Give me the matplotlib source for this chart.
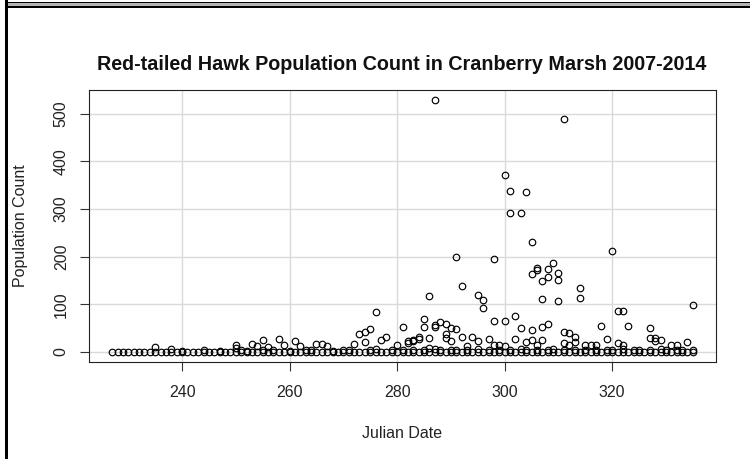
import matplotlib
matplotlib.use('Agg')
import matplotlib.pyplot as plt
from matplotlib.patches import Rectangle
import numpy as np

plt.rcParams['font.family'] = ['Liberation Sans', 'DejaVu Sans']

# days with a zero count
zero_days = [227, 228, 229, 230, 231, 232, 233, 234, 235, 236, 237, 238, 239, 240, 241,
             242, 243, 244, 245, 246, 247, 248, 249, 250, 251, 252, 253, 254, 255, 256,
             257, 258, 259, 260, 261, 262, 263, 264, 265, 266, 267, 268, 269, 270, 271,
             272, 273, 274, 275, 276, 277, 278, 279, 280, 281, 282, 283, 284, 285, 286,
             287, 288, 289, 290, 291, 292, 293, 294, 295, 296, 297, 298, 299, 300, 301,
             302, 303, 304, 305, 306, 307, 308, 309, 310, 311, 312, 313, 314, 315, 316,
             317, 318, 319, 320, 321, 322, 323, 324, 325, 326, 327, 328, 329, 330, 331,
             332, 333, 334, 335]
zero_counts = [0] * len(zero_days)

# small counts just above zero
low_days = [240, 244, 247, 251, 252, 255, 257, 260, 263, 264, 268, 270, 271, 275, 276,
            279, 281, 283, 285, 287, 288, 290, 291, 293, 295, 297, 299, 301, 303, 304,
            306, 308, 309, 311, 313, 315, 317, 319, 320, 322, 324, 325, 327, 329, 330,
            332, 333, 335]
low_counts = [2, 3, 1, 4, 2, 3, 5, 2, 4, 3, 2, 5, 3, 4, 6,
              3, 5, 4, 3, 6, 4, 5, 3, 4, 6, 3, 5, 4, 6, 3,
              5, 4, 6, 3, 5, 4, 3, 5, 4, 6, 3, 5, 4, 6, 3,
              5, 4, 5]

# remaining observations
obs_days = [287, 311, 300, 301, 304, 301, 303, 305, 320, 291, 298, 309, 306, 306, 308,
            305, 310, 308, 310, 307, 292, 314, 295, 286, 296, 314, 307, 310, 335, 296,
            321, 322, 276, 302, 285, 298, 300, 288, 289, 308, 287, 318, 323, 285, 307,
            281, 287, 290, 303, 291, 327, 275, 305, 274, 311, 312, 289, 273, 313, 278,
            292, 294, 286, 289, 328, 327, 302, 319, 284, 297, 329, 258, 277, 305, 307,
            255, 261, 282, 283, 290, 295, 304, 328, 313, 334, 274, 282, 311, 321, 265,
            266, 272, 253, 250, 259, 280, 298, 299, 306, 312, 315, 316, 317, 322, 331,
            332, 254, 262, 267, 293, 300, 256, 235, 250, 238, 286, 284, 283]
obs_counts = [529, 490, 372, 339, 335, 292, 292, 230, 211, 200, 196, 186, 176, 172, 174,
              163, 165, 158, 152, 148, 139, 134, 119, 118, 109, 113, 111, 108, 99, 93,
              87, 85, 83, 76, 69, 66, 66, 63, 58, 58, 57, 54, 54, 53, 53,
              52, 52, 51, 50, 49, 50, 48, 46, 41, 41, 39, 37, 37, 32, 32,
              32, 31, 30, 30, 29, 29, 28, 27, 27, 27, 26, 27, 25, 25, 25,
              24, 22, 22, 22, 22, 22, 21, 22, 20, 20, 20, 18, 18, 18, 17,
              17, 17, 16, 15, 15, 15, 15, 15, 15, 15, 15, 15, 15, 15, 15,
              14, 13, 13, 13, 13, 13, 11, 10, 8, 7, 8, 31, 25]

x_ticks = [240, 260, 280, 300, 320]
y_ticks = [0, 100, 200, 300, 400, 500]

days = np.array(zero_days + low_days + obs_days)
counts = np.array(zero_counts + low_counts + obs_counts)

fig = plt.figure(figsize=(7.5, 4.59), dpi=100)
ax = fig.add_axes([89 / 750, 97 / 459, 627 / 750, 272 / 459])

# R-style 4% padding on both axes
xpad = 0.04 * (days.max() - days.min())
ypad = 0.04 * (counts.max() - counts.min())
ax.set_xlim(days.min() - xpad, days.max() + xpad)
ax.set_ylim(counts.min() - ypad, counts.max() + ypad)

ax.grid(True, color='#d9d9d9', linewidth=1.0)
ax.set_axisbelow(True)
ax.plot(days, counts, 'o', markerfacecolor='none', markeredgecolor='black',
        markersize=4.7, markeredgewidth=0.85, linestyle='none')

ax.set_xticks(x_ticks)
ax.set_yticks(y_ticks)
ax.tick_params(axis='both', length=6.5, width=0.8, color='#333333',
               labelsize=11.5, labelcolor='#222222')
ax.tick_params(axis='x', pad=10)
ax.tick_params(axis='y', pad=8, labelrotation=90)
for lab in ax.get_yticklabels():
    lab.set_va('center')
for sp in ax.spines.values():
    sp.set_linewidth(0.8)
    sp.set_color('#222222')

fig.text(402 / 750, 1 - 65 / 459, 'Red-tailed Hawk Population Count in Cranberry Marsh 2007-2014',
         ha='center', va='center', fontsize=14.2, fontweight='bold', color='#111111')
fig.text(402 / 750, 1 - 433 / 459, 'Julian Date', ha='center', va='center',
         fontsize=11.5, color='#222222')
fig.text(21 / 750, 1 - 226 / 459, 'Population Count', ha='center', va='center',
         rotation=90, fontsize=11.5, color='#222222')

# window frame lines along the top and left edge
fig.add_artist(Rectangle((8 / 750, 1 - 3.3 / 459), 1, 1.3 / 459,
                         transform=fig.transFigure, color='black', lw=0))
fig.add_artist(Rectangle((8 / 750, 1 - 6 / 459), 1, 2.7 / 459,
                         transform=fig.transFigure, color='#b4b4b4', lw=0))
fig.add_artist(Rectangle((8 / 750, 1 - 8 / 459), 1, 2 / 459,
                         transform=fig.transFigure, color='black', lw=0))
fig.add_artist(Rectangle((5 / 750, 0), 3 / 750, 1,
                         transform=fig.transFigure, color='black', lw=0))

fig.savefig('out.png', dpi=100)
